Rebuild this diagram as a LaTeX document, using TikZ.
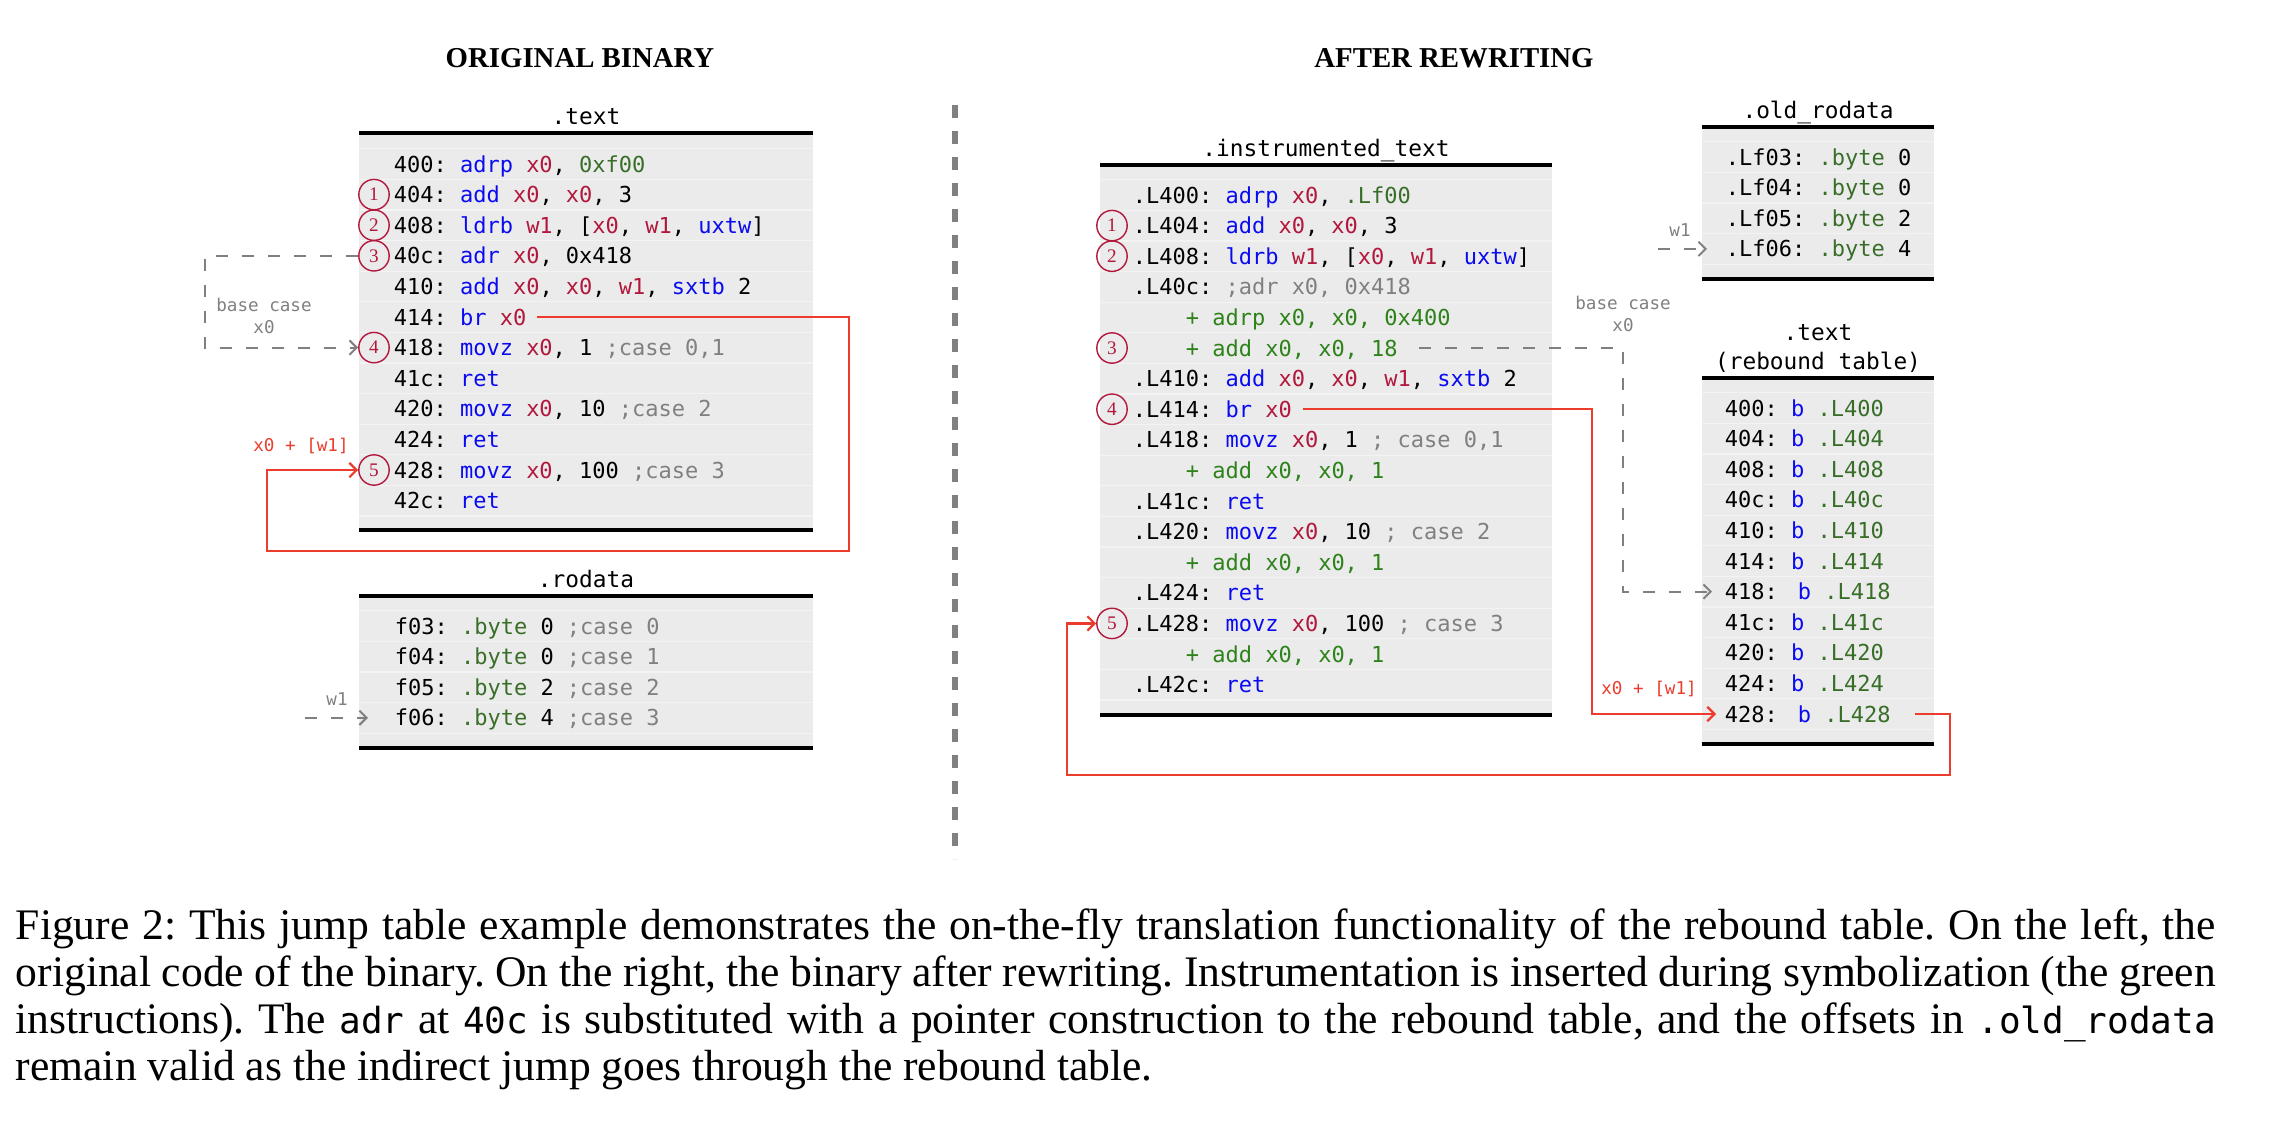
\documentclass[tikz,border=0pt]{standalone}
\usepackage{fontspec}
\setmainfont{Liberation Serif}
\setmonofont{DejaVu Sans Mono}
\usetikzlibrary{arrows.meta}

\definecolor{mnemc}{RGB}{10,10,240}
\definecolor{regc}{RGB}{178,24,60}
\definecolor{datc}{RGB}{56,110,40}
\definecolor{insc}{RGB}{45,130,25}
\definecolor{cmtc}{RGB}{128,128,128}
\definecolor{jmpc}{RGB}{235,60,45}
\definecolor{secfill}{RGB}{235,235,235}
\definecolor{sepc}{RGB}{243,243,243}

\newcommand{\opc}[1]{\textcolor{mnemc}{#1}}
\newcommand{\rgs}[1]{\textcolor{regc}{#1}}
\newcommand{\dat}[1]{\textcolor{datc}{#1}}
\newcommand{\cmt}[1]{\textcolor{cmtc}{#1}}
\newcommand{\inst}[1]{\textcolor{insc}{#1}}
\newcommand{\captt}[1]{{\ttfamily\fontsize{9}{11}\selectfont #1}}

\frenchspacing
\begin{document}
\begin{tikzpicture}[x=0.25pt,y=-0.25pt,
  >={Straight Barb[length=1.8pt,width=3.6pt]},
  code/.style={anchor=west,inner sep=0pt,text height=4.4pt,text depth=0.4pt,font=\ttfamily\fontsize{5.5}{6.6}\selectfont},
  sect/.style={anchor=base,inner sep=0pt,font=\ttfamily\fontsize{5.7}{6.8}\selectfont},
  cnum/.style={circle,draw=regc,text=regc,line width=0.35pt,inner sep=0pt,minimum size=7.6pt,font=\fontsize{4.8}{5}\selectfont},
  lbl/.style={inner sep=0pt,align=center,font=\ttfamily\fontsize{4.4}{5.5}\selectfont},
  bcase/.style={draw=cmtc,line width=0.5pt,dash pattern=on 3pt off 3.5pt},
  jump/.style={draw=jmpc,line width=0.55pt},
  divl/.style={draw=cmtc,line width=1.3pt,dash pattern=on 3.2pt off 3.3pt},
  rulel/.style={line width=0.8pt},
  sepl/.style={draw=sepc,line width=0.3pt},
  head/.style={inner sep=0pt,font=\bfseries\fontsize{7.2}{8.6}\selectfont},
  capl/.style={anchor=base west,inner sep=0pt,font=\fontsize{10.9}{11.75}\selectfont}]
\useasboundingbox (0,0) rectangle (2290,1124);

\node[head] (hdorig) at (580,58) {ORIGINAL BINARY};
\node[head] (hdafter) at (1454,58) {AFTER REWRITING};
\draw[divl] (955,105) -- (955,859);

%ORIGINAL .text
\fill[secfill] (359,133) rectangle (813,530);
\draw[sepl] (359,148.7) -- (813,148.7) (359,179.3) -- (813,179.3) (359,209.9) -- (813,209.9)
  (359,240.5) -- (813,240.5) (359,271.1) -- (813,271.1) (359,301.7) -- (813,301.7)
  (359,332.3) -- (813,332.3) (359,362.9) -- (813,362.9) (359,393.5) -- (813,393.5)
  (359,424.1) -- (813,424.1) (359,454.7) -- (813,454.7) (359,485.3) -- (813,485.3)
  (359,515.9) -- (813,515.9);
\draw[rulel] (359,133) -- (813,133);
\draw[rulel] (359,530) -- (813,530);
\node[sect] (otext) at (586,124) {.text};
\node[code] (o400) at (393,164) {400: \opc{adrp} \rgs{x0}, \dat{0xf00}};
\node[code] (o404) at (393,194.6) {404: \opc{add} \rgs{x0}, \rgs{x0}, 3};
\node[code] (o408) at (393,225.2) {408: \opc{ldrb} \rgs{w1}, [\rgs{x0}, \rgs{w1}, \opc{uxtw}]};
\node[code] (o40c) at (393,255.8) {40c: \opc{adr} \rgs{x0}, 0x418};
\node[code] (o410) at (393,286.4) {410: \opc{add} \rgs{x0}, \rgs{x0}, \rgs{w1}, \opc{sxtb} 2};
\node[code] (o414) at (393,317) {414: \opc{br} \rgs{x0}};
\node[code] (o418) at (393,347.6) {418: \opc{movz} \rgs{x0}, 1 \cmt{;case 0,1}};
\node[code] (o41c) at (393,378.2) {41c: \opc{ret}};
\node[code] (o420) at (393,408.8) {420: \opc{movz} \rgs{x0}, 10 \cmt{;case 2}};
\node[code] (o424) at (393,439.4) {424: \opc{ret}};
\node[code] (o428) at (393,470) {428: \opc{movz} \rgs{x0}, 100 \cmt{;case 3}};
\node[code] (o42c) at (393,500.6) {42c: \opc{ret}};
\node[cnum] (oc1) at (374,194.6) {1};
\node[cnum] (oc2) at (374,225.2) {2};
\node[cnum] (oc3) at (374,255.8) {3};
\node[cnum] (oc4) at (374,347.6) {4};
\node[cnum] (oc5) at (374,470) {5};

%ORIGINAL .rodata
\fill[secfill] (359,596) rectangle (813,748);
\draw[sepl] (359,610.7) -- (813,610.7) (359,641.3) -- (813,641.3) (359,671.9) -- (813,671.9)
  (359,702.5) -- (813,702.5) (359,733.1) -- (813,733.1);
\draw[rulel] (359,596) -- (813,596);
\draw[rulel] (359,748) -- (813,748);
\node[sect] (orodata) at (586,587) {.rodata};
\node[code] (f03) at (394,626) {f03: \dat{.byte} 0 \cmt{;case 0}};
\node[code] (f04) at (394,656.6) {f04: \dat{.byte} 0 \cmt{;case 1}};
\node[code] (f05) at (394,687.2) {f05: \dat{.byte} 2 \cmt{;case 2}};
\node[code] (f06) at (394,717.8) {f06: \dat{.byte} 4 \cmt{;case 3}};

%ORIGINAL arrows
\coordinate (obase) at (205,347.6);
\coordinate (ojmp) at (849,551);
\coordinate (oback) at (267,470);
\coordinate (ow1) at (305,717.8);
\draw[bcase,->] (oc3.west) -| (obase) -- (oc4.west);
\node[lbl,text=cmtc] (obclbl) at (264,316) {base case\\x0};
\draw[jump,->] ([xshift=2.5pt]o414.east) -| (ojmp) -| (oback) -- (oc5.west);
\node[lbl,text=jmpc] (ojlbl) at (301,446) {x0 + [w1]};
\draw[bcase,->] (ow1) -- ([xshift=-6.5pt]f06.west);
\node[lbl,text=cmtc] (ow1lbl) at (337,699) {w1};

%AFTER .instrumented_text
\fill[secfill] (1100,165) rectangle (1552,715);
\draw[sepl] (1100,179.7) -- (1552,179.7) (1100,210.3) -- (1552,210.3) (1100,240.9) -- (1552,240.9)
  (1100,271.5) -- (1552,271.5) (1100,302.1) -- (1552,302.1) (1100,332.7) -- (1552,332.7)
  (1100,363.3) -- (1552,363.3) (1100,393.9) -- (1552,393.9) (1100,424.5) -- (1552,424.5)
  (1100,455.1) -- (1552,455.1) (1100,485.7) -- (1552,485.7) (1100,516.3) -- (1552,516.3)
  (1100,546.9) -- (1552,546.9) (1100,577.5) -- (1552,577.5) (1100,608.1) -- (1552,608.1)
  (1100,638.7) -- (1552,638.7) (1100,669.3) -- (1552,669.3) (1100,699.9) -- (1552,699.9);
\draw[rulel] (1100,165) -- (1552,165);
\draw[rulel] (1100,715) -- (1552,715);
\node[sect] (itext) at (1326,156) {.instrumented\_text};
\node[code] (i400) at (1132,195) {.L400: \opc{adrp} \rgs{x0}, \dat{.Lf00}};
\node[code] (i404) at (1132,225.6) {.L404: \opc{add} \rgs{x0}, \rgs{x0}, 3};
\node[code] (i408) at (1132,256.2) {.L408: \opc{ldrb} \rgs{w1}, [\rgs{x0}, \rgs{w1}, \opc{uxtw}]};
\node[code] (i40c) at (1132,286.8) {.L40c: \cmt{;adr x0, 0x418}};
\node[code] (i40ca) at (1185,317.4) {\inst{+ adrp x0, x0, 0x400}};
\node[code] (i40cb) at (1185,348) {\inst{+ add x0, x0, 18}};
\node[code] (i410) at (1132,378.6) {.L410: \opc{add} \rgs{x0}, \rgs{x0}, \rgs{w1}, \opc{sxtb} 2};
\node[code] (i414) at (1132,409.2) {.L414: \opc{br} \rgs{x0}};
\node[code] (i418) at (1132,439.8) {.L418: \opc{movz} \rgs{x0}, 1 \cmt{; case 0,1}};
\node[code] (i418a) at (1185,470.4) {\inst{+ add x0, x0, 1}};
\node[code] (i41c) at (1132,501) {.L41c: \opc{ret}};
\node[code] (i420) at (1132,531.6) {.L420: \opc{movz} \rgs{x0}, 10 \cmt{; case 2}};
\node[code] (i420a) at (1185,562.2) {\inst{+ add x0, x0, 1}};
\node[code] (i424) at (1132,592.8) {.L424: \opc{ret}};
\node[code] (i428) at (1132,623.4) {.L428: \opc{movz} \rgs{x0}, 100 \cmt{; case 3}};
\node[code] (i428a) at (1185,654) {\inst{+ add x0, x0, 1}};
\node[code] (i42c) at (1132,684.6) {.L42c: \opc{ret}};
\node[cnum] (ic1) at (1112,225.6) {1};
\node[cnum] (ic2) at (1112,256.2) {2};
\node[cnum] (ic3) at (1112,348) {3};
\node[cnum] (ic4) at (1112,409.2) {4};
\node[cnum] (ic5) at (1112,623.4) {5};

%AFTER .old_rodata
\fill[secfill] (1702,127) rectangle (1934,279);
\draw[sepl] (1702,141.7) -- (1934,141.7) (1702,172.3) -- (1934,172.3) (1702,202.9) -- (1934,202.9)
  (1702,233.5) -- (1934,233.5) (1702,264.1) -- (1934,264.1);
\draw[rulel] (1702,127) -- (1934,127);
\draw[rulel] (1702,279) -- (1934,279);
\node[sect] (oldro) at (1818,118) {.old\_rodata};
\node[code] (lf03) at (1725,157) {.Lf03: \dat{.byte} 0};
\node[code] (lf04) at (1725,187.6) {.Lf04: \dat{.byte} 0};
\node[code] (lf05) at (1725,218.2) {.Lf05: \dat{.byte} 2};
\node[code] (lf06) at (1725,248.8) {.Lf06: \dat{.byte} 4};

%AFTER .text (rebound table)
\fill[secfill] (1702,378) rectangle (1934,744);
\draw[sepl] (1702,392.7) -- (1934,392.7) (1702,423.3) -- (1934,423.3) (1702,453.9) -- (1934,453.9)
  (1702,484.5) -- (1934,484.5) (1702,515.1) -- (1934,515.1) (1702,545.7) -- (1934,545.7)
  (1702,576.3) -- (1934,576.3) (1702,606.9) -- (1934,606.9) (1702,637.5) -- (1934,637.5)
  (1702,668.1) -- (1934,668.1) (1702,698.7) -- (1934,698.7) (1702,729.3) -- (1934,729.3);
\draw[rulel] (1702,378) -- (1934,378);
\draw[rulel] (1702,744) -- (1934,744);
\node[sect] (rbtext) at (1818,340) {.text};
\node[sect] (rbname) at (1818,369) {(rebound table)};
\node[code] (b400) at (1724,408) {400: \opc{b} \dat{.L400}};
\node[code] (b404) at (1724,438.6) {404: \opc{b} \dat{.L404}};
\node[code] (b408) at (1724,469.2) {408: \opc{b} \dat{.L408}};
\node[code] (b40c) at (1724,499.8) {40c: \opc{b} \dat{.L40c}};
\node[code] (b410) at (1724,530.4) {410: \opc{b} \dat{.L410}};
\node[code] (b414) at (1724,561) {414: \opc{b} \dat{.L414}};
\node[code] (b418) at (1724,591.6) {418: \hspace{1.7pt}\opc{b} \dat{.L418}};
\node[code] (b41c) at (1724,622.2) {41c: \opc{b} \dat{.L41c}};
\node[code] (b420) at (1724,652.8) {420: \opc{b} \dat{.L420}};
\node[code] (b424) at (1724,683.4) {424: \opc{b} \dat{.L424}};
\node[code] (b428) at (1724,714) {428: \hspace{1.7pt}\opc{b} \dat{.L428}};

%AFTER arrows
\coordinate (rbase) at (1623,591.6);
\coordinate (rjmp) at (1592,714);
\coordinate (rret) at (1950,775);
\coordinate (rback) at (1067,623.4);
\coordinate (rw1) at (1658,248.8);
\draw[bcase,->] (rw1) -- ([xshift=-4.5pt]lf06.west);
\node[lbl,text=cmtc] (rw1lbl) at (1680,230) {w1};
\draw[bcase,->] ([xshift=5pt]i40cb.east) -| (rbase) -- ([xshift=-3pt]b418.west);
\node[lbl,text=cmtc] (rbclbl) at (1623,314) {base case\\x0};
\draw[jump,->] ([xshift=2.5pt]i414.east) -| (rjmp) -- ([xshift=-2pt]b428.west);
\node[lbl,text=jmpc] (rjlbl) at (1649,689) {x0 + [w1]};
\draw[jump,->] ([xshift=6pt]b428.east) -| (rret) -| (rback) -- (ic5.west);

%caption
\node[capl] (cap1) at (15,939) {\makebox[550pt][s]{Figure 2: This jump table example demonstrates the on-the-fly translation functionality of the rebound table. On the left, the}};
\node[capl] (cap2) at (15,986) {\makebox[550pt][s]{original code of the binary. On the right, the binary after rewriting. Instrumentation is inserted during symbolization (the green}};
\node[capl] (cap3) at (15,1033) {\makebox[550pt][s]{instructions). The \captt{adr} at \captt{40c} is substituted with a pointer construction to the rebound table, and the offsets in \captt{.old\_rodata}}};
\node[capl] (cap4) at (15,1080) {remain valid as the indirect jump goes through the rebound table.};
\end{tikzpicture}
\end{document}
